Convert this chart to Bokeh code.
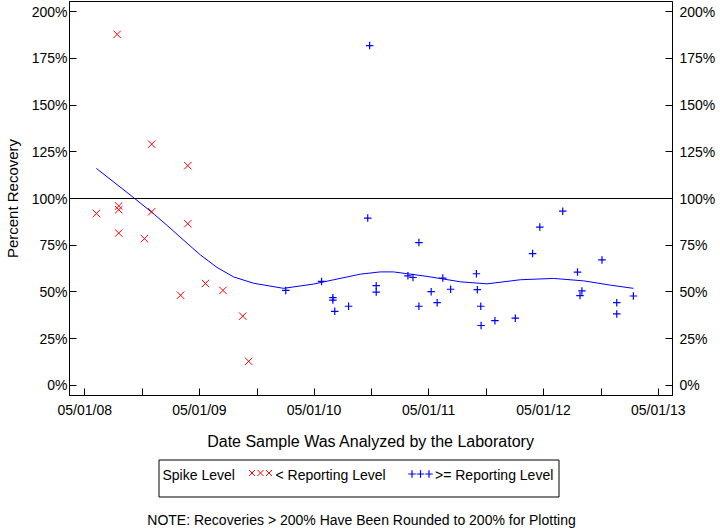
from datetime import datetime
import pandas as pd
from bokeh.plotting import figure
from bokeh.layouts import column
from bokeh.core.properties import value
from bokeh.models import (Range1d, FixedTicker, DatetimeTickFormatter, PrintfTickFormatter,
                          LinearAxis, Span)
from bokeh.embed import file_html
from bokeh.resources import INLINE

# ---------------- data ----------------
below_dates = ["2008-06-07", "2008-08-12", "2008-08-17", "2008-08-17", "2008-08-17",
               "2008-11-07", "2008-11-30", "2008-11-30", "2009-03-02", "2009-03-25",
               "2009-03-25", "2009-05-20", "2009-07-15", "2009-09-16", "2009-10-05"]
below_values = [92.0, 187.9, 96.0, 94.0, 81.5,
                78.5, 92.9, 129.1, 48.2, 117.6,
                86.5, 54.5, 50.8, 37.0, 12.8]

above_dates = ["2010-01-31", "2010-05-25", "2010-06-30", "2010-06-30", "2010-07-06",
               "2010-08-19", "2010-10-19", "2010-10-25", "2010-11-15", "2010-11-15",
               "2011-02-24", "2011-03-12", "2011-03-31", "2011-03-31", "2011-05-09",
               "2011-05-28", "2011-06-15", "2011-07-10", "2011-09-30", "2011-10-03",
               "2011-10-14", "2011-10-15", "2011-11-28", "2012-02-01", "2012-03-27",
               "2012-04-19", "2012-07-01", "2012-08-17", "2012-08-25", "2012-08-31",
               "2012-11-03", "2012-12-20", "2012-12-20", "2013-02-11"]
above_values = [50.8, 55.6, 46.9, 45.6, 39.6, 42.3, 89.5, 181.9, 53.3, 49.9,
                58.6, 57.7, 76.4, 42.3, 50.1, 44.2, 57.4, 51.4, 59.7, 51.2,
                42.3, 32.0, 34.6, 35.9, 70.5, 84.7, 93.2, 60.6, 48.0, 50.5,
                67.1, 44.2, 38.2, 47.8]

smooth_dates = ["2008-06-07", "2008-10-04", "2008-12-07", "2009-01-18", "2009-03-23",
                "2009-05-04", "2009-06-26", "2009-08-18", "2009-10-21", "2010-01-24",
                "2010-04-30", "2010-07-03", "2010-09-26", "2010-11-28", "2011-01-09",
                "2011-04-26", "2011-08-10", "2011-11-03", "2012-02-17", "2012-06-02",
                "2012-09-06", "2012-11-30", "2013-02-11"]
smooth_values = [116.1, 100.4, 91.7, 85.6, 76.0,
                 69.8, 63.1, 58.0, 54.6, 51.9,
                 54.2, 56.5, 59.5, 60.7, 60.7,
                 58.3, 55.4, 54.3, 56.5, 57.2,
                 55.9, 53.6, 51.9]

major_tick_dates = ["2008-05-01", "2009-05-01", "2010-05-01", "2011-05-01", "2012-05-01", "2013-05-01"]
minor_tick_dates = ["2008-11-01", "2009-11-01", "2010-11-01", "2011-11-01", "2012-11-01"]
y_ticks = [0, 25, 50, 75, 100, 125, 150, 175, 200]
reference_level = 100

legend_title = "Spike Level"
legend_labels = ["< Reporting Level", ">= Reporting Level"]
note_text = "NOTE: Recoveries > 200% Have Been Rounded to 200% for Plotting"

FONT = "Liberation Sans"
BORDER_L, BORDER_R = 69, 48


def to_ms(ds):
    return [pd.Timestamp(d).value / 1e6 for d in ds]


# ---------------- main chart ----------------
p = figure(width=720, height=452, output_backend="svg", toolbar_location=None,
           x_axis_type="datetime",
           x_range=Range1d(datetime(2008, 3, 13, 7), datetime(2013, 6, 15, 12)),
           y_range=Range1d(-5.49, 205.5),
           min_border_left=BORDER_L, min_border_right=BORDER_R, min_border_top=1,
           min_border_bottom=55)
p.background_fill_color = "white"
p.border_fill_color = "white"
p.outline_line_color = "black"
p.outline_line_width = 1
p.xgrid.visible = False
p.ygrid.visible = False

p.add_layout(Span(location=reference_level, dimension="width", line_color="black", line_width=1))

p.line(pd.to_datetime(smooth_dates), smooth_values, line_color="blue", line_width=1)

p.scatter(pd.to_datetime(below_dates), below_values, marker="x", size=10.5,
          line_color="red", line_width=1)
p.scatter(pd.to_datetime(above_dates), above_values, marker="cross", size=7.5,
          line_color="blue", line_width=1.2)

xa = p.xaxis[0]
xa.ticker = FixedTicker(ticks=to_ms(major_tick_dates), minor_ticks=to_ms(minor_tick_dates))
fmt = "%m/%d/%y"
xa.formatter = DatetimeTickFormatter(years=fmt, months=fmt, days=fmt, hours=fmt,
                                     hourmin=fmt, minutes=fmt, minsec=fmt, seconds=fmt)
xa.axis_label = "Date Sample Was Analyzed by the Laboratory"
xa.axis_label_standoff = 12
xa.major_label_standoff = 6

ya = p.yaxis[0]
ya.axis_label = "Percent Recovery"
ya.axis_label_standoff = 8
ra = LinearAxis()
p.add_layout(ra, "right")
for ax in (ya, ra):
    ax.ticker = FixedTicker(ticks=y_ticks)
    ax.formatter = PrintfTickFormatter(format="%d%%")
    ax.minor_tick_line_color = None
ya.major_label_standoff = 2
ra.major_label_standoff = 7

for ax in (xa, ya):
    ax.axis_label_text_font = FONT
    ax.axis_label_text_font_style = "normal"
    ax.axis_label_text_color = "black"
xa.axis_label_text_font_size = "16px"
ya.axis_label_text_font_size = "15px"

for ax in (xa, ya, ra):
    ax.axis_line_color = "black"
    ax.major_tick_line_color = "black"
    ax.major_tick_in = 7
    ax.major_tick_out = 0
    ax.minor_tick_in = 7
    ax.minor_tick_out = 0
    ax.major_label_text_font = FONT
    ax.major_label_text_font_size = "14px"
    ax.major_label_text_color = "black"
xa.minor_tick_line_color = "black"

# ---------------- legend + note strip (frame aligned with the chart, pixel units) ----------------
q = figure(width=720, height=76, output_backend="svg", toolbar_location=None,
           x_range=Range1d(BORDER_L, 720 - BORDER_R), y_range=Range1d(528, 452),
           x_axis_location=None, y_axis_location=None,
           min_border_left=BORDER_L, min_border_right=BORDER_R,
           min_border_top=0, min_border_bottom=0)
q.outline_line_color = None
q.xgrid.visible = False
q.ygrid.visible = False
q.background_fill_color = "white"
q.border_fill_color = "white"

q.quad(left=[158.5], right=[558.5], top=[459.5], bottom=[496.5],
       fill_color=None, line_color="black", line_width=1)
q.text(x=[162, 275, 434.5], y=[474.5, 474.5, 474.5],
       text=[legend_title, legend_labels[0], legend_labels[1]],
       text_align="left", text_baseline="middle", text_font=value(FONT),
       text_font_size="14px", text_color="black")
q.scatter(x=[251.5, 260, 268.5], y=[472.5] * 3, marker="x", size=8.5,
          line_color="red", line_width=1)
q.scatter(x=[411.5, 420, 428.5], y=[473.5] * 3, marker="cross", size=7.5,
          line_color="blue", line_width=1.2)
q.text(x=[361], y=[519], text=[note_text], text_align="center", text_baseline="middle",
       text_font=value(FONT), text_font_size="14px", text_color="black")

layout = column(p, q, spacing=0)
open("out.html", "w").write(file_html(layout, INLINE))
